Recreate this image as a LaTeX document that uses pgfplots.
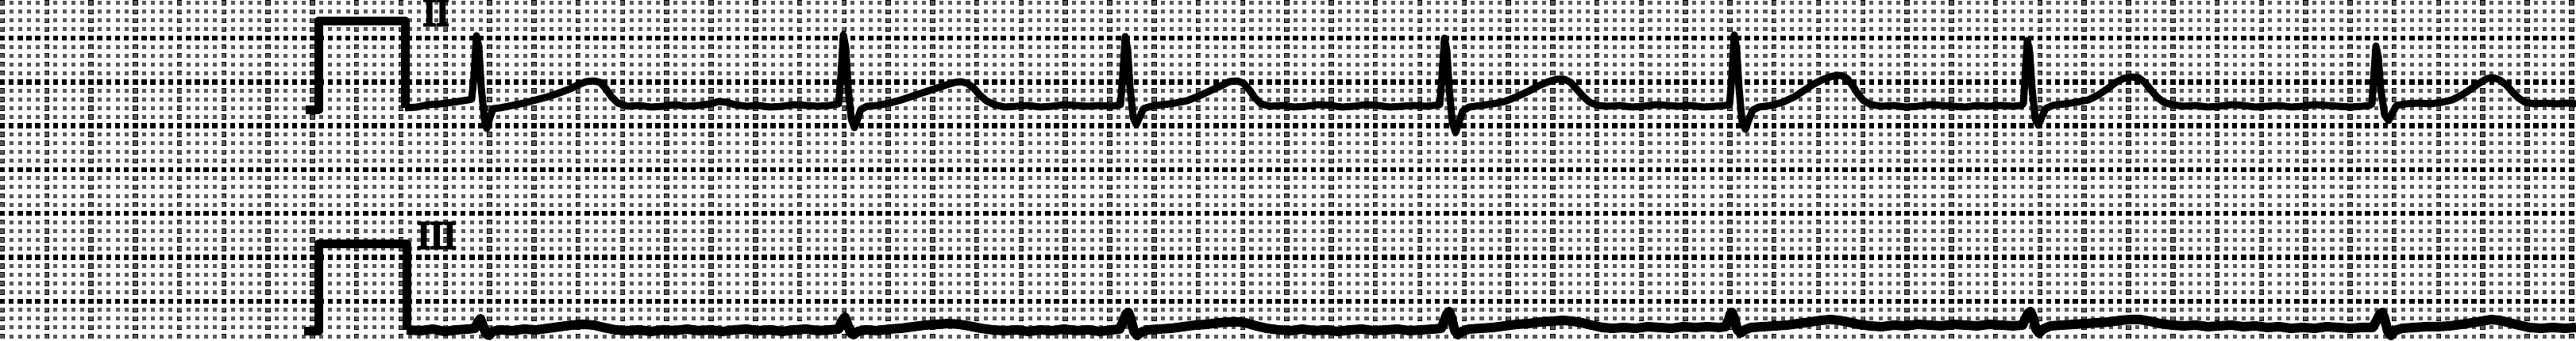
\documentclass[border=0pt]{standalone}
\usepackage{fontspec}
\newfontfamily\labfont[FakeBold=6]{Liberation Serif}
\usepackage{pgfplots}
\pgfplotsset{compat=1.18}
\begin{document}
\begin{tikzpicture}
\begin{axis}[
  width=32.44cm, height=4.3cm, scale only axis,
  xmin=0, xmax=3244, ymin=0, ymax=430, y dir=reverse,
  axis line style={draw=none},
  major tick length=0pt, minor tick length=0pt,
  xticklabels={}, yticklabels={},
  xtick={3,58.78,...,3244},
  ytick={48,103.3,...,430},
  minor xtick={3,14.156,...,3244},
  minor ytick={3.76,14.82,...,430},
  grid=both,
  major x grid style={black, line width=0.065cm, dash pattern=on 0.065cm off 0.0456cm, dash phase=0.1055cm},
  minor x grid style={black!65, line width=0.05cm, dash pattern=on 0.05cm off 0.0606cm, dash phase=0.0980cm},
  major y grid style={black, line width=0.065cm, dash pattern=on 0.065cm off 0.04656cm, dash phase=0.00250cm},
  minor y grid style={black!65, line width=0.05cm, dash pattern=on 0.05cm off 0.06156cm, dash phase=0.10656cm},
]
% calibration pulses
\addplot[black, line width=0.11cm, line join=round] coordinates {(385,139) (401,139) (401,27) (510,27) (510,136)};
\addplot[black, line width=0.11cm, line join=round] coordinates {(383,418) (401,418) (401,308) (512,308) (512,416)};
% Lead II
\addplot[black, line width=0.09cm, line join=round] coordinates {
(510,136) (525,135) (540,132) (555,131) (570,129) (583,127) (590,126) (594,125) (597,95) (600,45) (603,60) (606,110) (610,150) (613,162) (617,148) (621,137)
(630,136) (645,133) (660,130) (675,126) (690,122) (705,117) (718,112) (728,107) (738,103) (748,102) (756,104) (763,112) (770,122) (778,130) (790,134)
(805,133) (820,135) (835,134) (850,132) (865,134) (880,133) (895,131) (905,128) (915,129) (925,132) (940,134) (955,133) (970,135) (985,134) (1000,132)
(1015,133) (1030,134) (1045,133) (1056,131) (1059,95) (1062,44) (1065,60) (1068,110) (1072,150) (1076,161) (1080,150) (1084,138) (1092,134)
(1105,133) (1120,130) (1135,126) (1150,121) (1165,116) (1180,111) (1192,107) (1202,104) (1210,103) (1218,105) (1226,111) (1234,120) (1242,127) (1252,132)
(1265,135) (1280,134) (1295,133) (1310,135) (1325,134) (1340,132) (1355,133) (1370,134) (1385,133) (1400,134) (1411,132)
(1414,95) (1417,46) (1420,62) (1423,110) (1427,148) (1431,157) (1435,148) (1440,137) (1450,134) (1465,132) (1480,130) (1495,127) (1510,121) (1525,114)
(1538,108) (1548,103) (1558,102) (1566,105) (1573,113) (1580,123) (1588,131) (1600,134) (1615,133) (1630,135) (1645,134) (1660,132) (1675,133) (1690,135)
(1705,134) (1720,132) (1735,133) (1750,135) (1765,134) (1780,133) (1795,134) (1806,133) (1813,132)
(1816,96) (1819,48) (1822,64) (1825,112) (1829,155) (1833,167) (1837,155) (1842,140) (1850,135) (1865,133) (1880,131) (1895,128) (1910,122) (1925,115)
(1938,108) (1950,103) (1960,100) (1970,100) (1978,104) (1986,113) (1994,122) (2002,129) (2012,133) (2025,134) (2040,133) (2055,135) (2070,134) (2085,132)
(2100,133) (2115,134) (2130,133) (2145,135) (2160,134) (2172,133) (2178,132)
(2181,95) (2184,44) (2187,62) (2190,112) (2194,155) (2198,163) (2202,152) (2207,139) (2215,135) (2230,133) (2245,129) (2260,122) (2272,114) (2284,106)
(2296,100) (2308,96) (2318,95) (2326,99) (2333,108) (2340,119) (2347,127) (2356,132) (2370,134) (2385,133) (2400,135) (2415,134) (2430,132) (2445,133)
(2460,134) (2475,135) (2490,133) (2505,134) (2520,133) (2535,134) (2545,133) (2548,131)
(2550,100) (2553,51) (2556,66) (2559,112) (2563,150) (2567,158) (2571,148) (2576,137) (2585,133) (2600,131) (2615,129) (2630,126) (2642,120) (2654,112)
(2664,104) (2674,99) (2684,97) (2693,98) (2701,104) (2709,114) (2717,123) (2725,129) (2735,132) (2750,134) (2765,133) (2780,135) (2795,134) (2810,132)
(2825,133) (2840,135) (2855,134) (2870,133) (2885,135) (2900,134) (2915,132) (2930,133) (2945,134) (2960,135) (2975,134) (2984,133) (2987,131)
(2989,100) (2992,58) (2995,72) (2998,112) (3003,145) (3008,152) (3013,142) (3018,133) (3030,131) (3045,130) (3060,131) (3075,129) (3088,126) (3100,120)
(3112,112) (3122,105) (3132,99) (3140,98) (3148,101) (3156,107) (3164,116) (3172,124) (3180,129) (3192,131) (3205,130) (3220,131) (3232,130) (3244,131)
};
% Lead III
\addplot[black, line width=0.12cm, line join=round] coordinates {
(512,416) (530,417) (545,415) (560,418) (575,416) (590,415) (598,414) (602,406) (605,402) (608,410) (612,421) (616,423) (620,418) (630,416) (645,417)
(660,415) (675,416) (690,414) (705,412) (720,410) (735,409) (748,410) (760,413) (775,416) (790,417) (805,416) (820,418) (835,416) (850,417) (865,415)
(880,417) (895,416) (910,418) (925,416) (940,415) (955,417) (970,416) (985,418) (1000,416) (1015,415) (1030,417) (1045,416) (1056,415) (1060,405)
(1064,400) (1067,408) (1071,420) (1075,422) (1080,418) (1090,416) (1105,417) (1120,415) (1135,414) (1150,412) (1165,410) (1180,409) (1195,408) (1208,409)
(1220,411) (1235,414) (1250,416) (1265,417) (1280,416) (1295,418) (1310,416) (1325,417) (1340,415) (1355,417) (1370,416) (1385,418) (1400,416) (1410,415)
(1415,404) (1418,396) (1421,394) (1424,402) (1428,418) (1432,423) (1437,419) (1445,416) (1460,415) (1475,414) (1490,412) (1505,410) (1520,409) (1535,407)
(1550,406) (1562,406) (1572,408) (1582,411) (1595,414) (1610,416) (1625,417) (1640,415) (1655,417) (1670,416) (1685,418) (1700,416) (1715,415) (1730,417)
(1745,416) (1760,415) (1775,417) (1790,416) (1805,415) (1815,414) (1819,404) (1822,396) (1825,393) (1828,401) (1832,417) (1836,422) (1841,418) (1850,415)
(1865,414) (1880,413) (1895,411) (1910,409) (1925,408) (1940,406) (1955,405) (1968,404) (1980,405) (1992,407) (2004,410) (2018,413) (2030,414) (2045,413)
(2060,414) (2075,412) (2090,413) (2105,414) (2120,412) (2135,413) (2150,412) (2165,413) (2173,412) (2177,403) (2179,396) (2181,394) (2184,401) (2188,416)
(2192,420) (2197,416) (2205,413) (2220,412) (2235,411) (2250,410) (2265,408) (2280,406) (2293,404) (2305,403) (2316,404) (2327,406) (2340,409) (2355,411)
(2370,412) (2385,410) (2400,411) (2415,409) (2430,410) (2445,411) (2460,409) (2475,410) (2490,411) (2505,409) (2520,410) (2535,411) (2547,410) (2551,401)
(2554,395) (2557,393) (2560,400) (2564,415) (2568,420) (2573,415) (2582,411) (2597,410) (2612,409) (2627,408) (2642,407) (2657,406) (2670,404) (2683,403)
(2695,403) (2707,405) (2720,408) (2735,410) (2750,411) (2765,410) (2780,412) (2795,411) (2810,410) (2825,412) (2840,411) (2855,413) (2870,412) (2885,414)
(2900,413) (2915,414) (2930,412) (2945,413) (2960,414) (2975,413) (2988,413) (2993,404) (2997,396) (3000,394) (3003,402) (3007,418) (3011,423) (3016,417)
(3025,414) (3040,413) (3055,412) (3070,412) (3085,411) (3100,409) (3113,407) (3125,405) (3137,403) (3148,404) (3160,407) (3172,410) (3185,413) (3200,414)
(3215,413) (3230,414) (3244,413)
};
\node[font=\labfont\fontsize{14}{14}\selectfont, inner sep=0pt] at (axis cs:549,16) {II};
\node[font=\labfont\fontsize{14}{14}\selectfont, inner sep=0pt] at (axis cs:550,297) {III};
\end{axis}
\pgfresetboundingbox
\useasboundingbox (current axis.south west) rectangle (current axis.north east);
\end{tikzpicture}
\end{document}
